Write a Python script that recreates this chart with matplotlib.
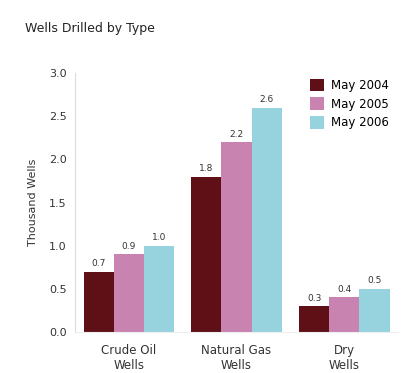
import numpy as np
import matplotlib.pyplot as plt

# Data
categories = ["Crude Oil\nWells", "Natural Gas\nWells", "Dry\nWells"]
series_names = ["May 2004", "May 2005", "May 2006"]
may_2004 = [0.7, 1.8, 0.3]
may_2005 = [0.9, 2.2, 0.4]
may_2006 = [1.0, 2.6, 0.5]
colors = ["#5e1016", "#c983b1", "#97d3de"]

fig = plt.figure(figsize=(4.03, 3.73), dpi=100)
ax = fig.add_axes([0.186, 0.110, 0.802, 0.694])

x = np.arange(len(categories))
w = 0.28
for i, (vals, name) in enumerate(zip([may_2004, may_2005, may_2006], series_names)):
    bars = ax.bar(x + (i - 1) * w, vals, width=w, color=colors[i], label=name)
    for b, v in zip(bars, vals):
        ax.text(b.get_x() + b.get_width() / 2, v + 0.04, f"{v:.1f}",
                ha='center', va='bottom', fontsize=6.5, color='#333333')

ax.set_xlim(-0.5, 2.5)
ax.set_ylim(0, 3.0)
ax.set_yticks(np.arange(0, 3.01, 0.5))
ax.set_yticklabels([f"{t:.1f}" for t in np.arange(0, 3.01, 0.5)], fontsize=8, color='#333333')
ax.set_xticks(x)
ax.set_xticklabels(categories, fontsize=8.5, color='#333333', linespacing=1.15)
ax.tick_params(axis='y', length=0, pad=6)
ax.tick_params(axis='x', length=0, pad=9)
ax.set_ylabel("Thousand Wells", fontsize=8, color='#333333', labelpad=8)

for s in ['top', 'right']:
    ax.spines[s].set_visible(False)
ax.spines['left'].set_color('#dddddd')
ax.spines['bottom'].set_color('#eeeeee')

ax.legend(loc='upper right', bbox_to_anchor=(1.005, 1.02), frameon=False, fontsize=8.5,
          handlelength=1.2, handleheight=1.2, handletextpad=0.6, labelspacing=0.5)

fig.text(0.062, 0.915, "Wells Drilled by Type", fontsize=9, color='#222222')

fig.savefig("out.png", dpi=100)
